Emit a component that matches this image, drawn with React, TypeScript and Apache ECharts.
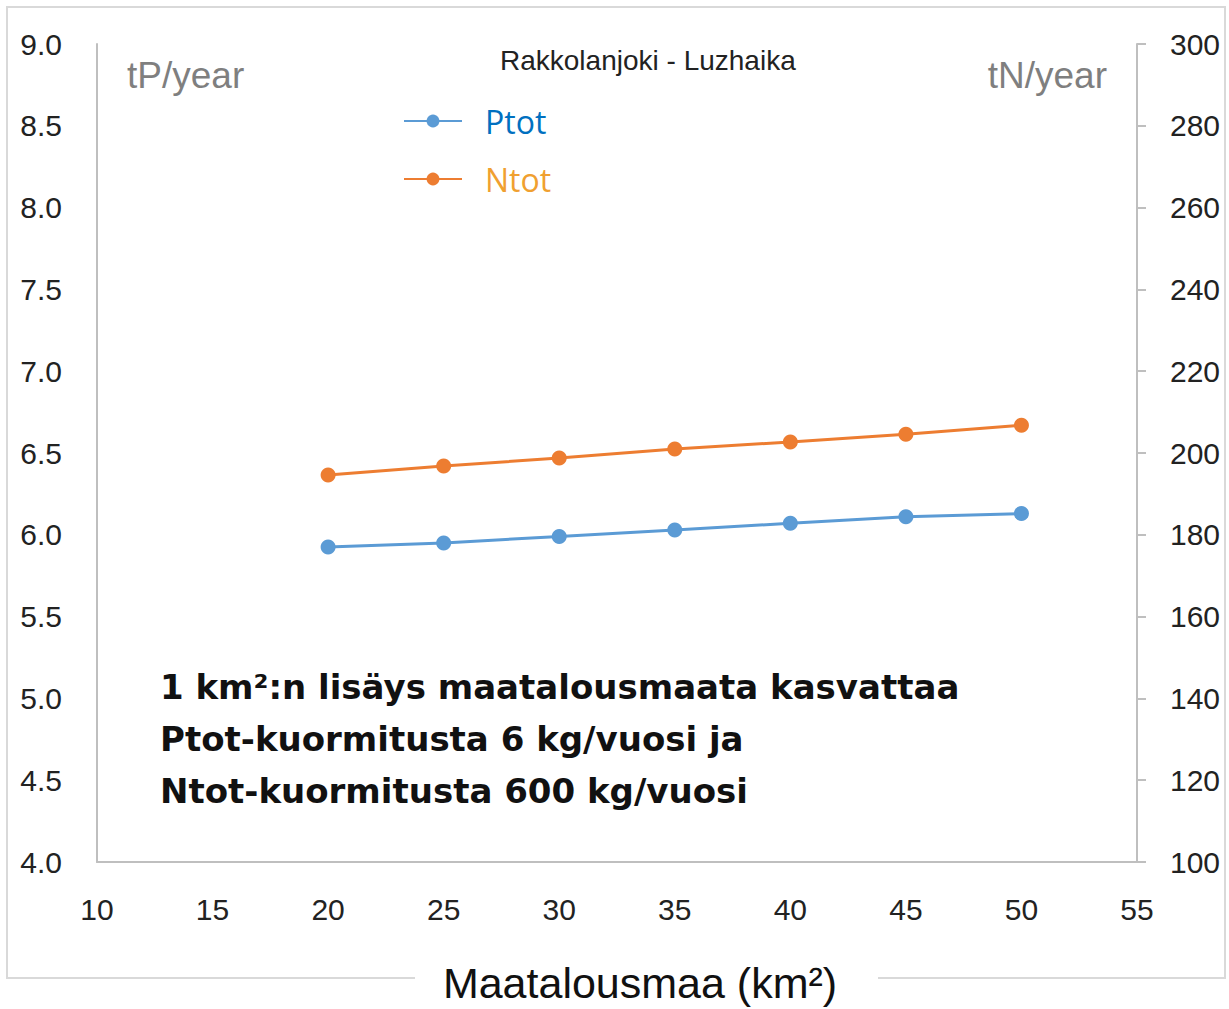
import React, { useEffect, useRef } from "react";
import * as echarts from "echarts";

const areaKm2 = [20, 25, 30, 35, 40, 45, 50];
const ptot = [5.925, 5.95, 5.99, 6.03, 6.07, 6.11, 6.13];
const ntot = [194.6, 196.8, 198.8, 201.0, 202.7, 204.6, 206.8];
const titleText = "Rakkolanjoki - Luzhaika";
const leftUnit = "tP/year";
const rightUnit = "tN/year";
const xName = "Maatalousmaa (km²)";
const noteLines = [
  "1 km²:n lisäys maatalousmaata kasvattaa",
  "Ptot-kuormitusta 6 kg/vuosi ja",
  "Ntot-kuormitusta 600 kg/vuosi",
];

const tickFont = "'Liberation Sans', Arial, sans-serif";

export default function App() {
  const ref = useRef<HTMLDivElement>(null);
  useEffect(() => {
    document.body.style.margin = "0";
    const chart = echarts.init(ref.current!, null, { renderer: "svg" });
    const axisLineStyle = { color: "#BFBFBF", width: 2 };
    const labelStyle = { color: "#222", fontSize: 30, fontFamily: tickFont };
    chart.setOption({
      animation: false,
      backgroundColor: "#fff",
      title: {
        text: titleText,
        left: 495,
        top: 41,
        textStyle: { fontSize: 28, fontWeight: "normal", color: "#222", fontFamily: tickFont },
      },
      legend: {
        orient: "vertical",
        left: 398,
        top: 100,
        itemWidth: 58,
        itemHeight: 16,
        itemGap: 26,
        data: [
          { name: "Ptot", textStyle: { color: "#0070C0" } },
          { name: "Ntot", textStyle: { color: "#F0A030" } },
        ],
        textStyle: { fontSize: 32, fontFamily: "'Open Sans', sans-serif", padding: [0, 0, 0, 18] },
      },
      grid: { left: 97, right: 92, top: 44, bottom: 147, outerBoundsMode: "none", containLabel: false },
      xAxis: {
        type: "value",
        min: 10,
        max: 55,
        interval: 5,
        name: xName,
        nameLocation: "middle",
        nameGap: 99,
        nameTextStyle: { fontSize: 43, color: "#111", fontFamily: tickFont, padding: [0, 0, 0, 46] },
        axisLine: { show: true, lineStyle: axisLineStyle },
        axisTick: { show: false },
        axisLabel: { ...labelStyle, margin: 32 },
        splitLine: { show: false },
      },
      yAxis: [
        {
          type: "value",
          min: 4,
          max: 9,
          interval: 0.5,
          position: "left",
          axisLine: { show: true, lineStyle: axisLineStyle },
          axisTick: { show: false },
          axisLabel: { ...labelStyle, margin: 35, formatter: (v: number) => v.toFixed(1) },
          splitLine: { show: false },
        },
        {
          type: "value",
          min: 100,
          max: 300,
          interval: 20,
          position: "right",
          axisLine: { show: true, lineStyle: axisLineStyle },
          axisTick: { show: true, length: 9, lineStyle: axisLineStyle },
          axisLabel: { ...labelStyle, margin: 33 },
          splitLine: { show: false },
        },
      ],
      series: [
        {
          name: "Ptot",
          type: "line",
          yAxisIndex: 0,
          data: areaKm2.map((x, i) => [x, ptot[i]]),
          symbol: "circle",
          symbolSize: 15,
          itemStyle: { color: "#5B9BD5" },
          lineStyle: { color: "#5B9BD5", width: 3 },
        },
        {
          name: "Ntot",
          type: "line",
          yAxisIndex: 1,
          data: areaKm2.map((x, i) => [x, ntot[i]]),
          symbol: "circle",
          symbolSize: 15,
          itemStyle: { color: "#ED7D31" },
          lineStyle: { color: "#ED7D31", width: 3 },
        },
      ],
      graphic: [
        {
          type: "polyline",
          shape: { points: [[415, 978], [7, 978], [7, 7], [1225, 7], [1225, 978], [878, 978]] },
          style: { stroke: "#D9D9D9", lineWidth: 2, fill: null },
          silent: true,
        },
        {
          type: "text",
          x: 127,
          y: 75,
          style: { text: leftUnit, fontSize: 37, fill: "#7F7F7F", fontFamily: tickFont, verticalAlign: "middle" },
        },
        {
          type: "text",
          x: 1107,
          y: 75,
          style: { text: rightUnit, fontSize: 37, fill: "#7F7F7F", fontFamily: tickFont, align: "right", verticalAlign: "middle" },
        },
        {
          type: "text",
          x: 160,
          y: 661,
          style: {
            text: noteLines.join("\n"),
            fontSize: 34,
            lineHeight: 52,
            fontWeight: "bold",
            fill: "#111",
            fontFamily: "'DejaVu Sans', sans-serif",
          },
        },
      ],
    });
    return () => chart.dispose();
  }, []);
  return <div ref={ref} style={{ width: 1229, height: 1009 }} />;
}
